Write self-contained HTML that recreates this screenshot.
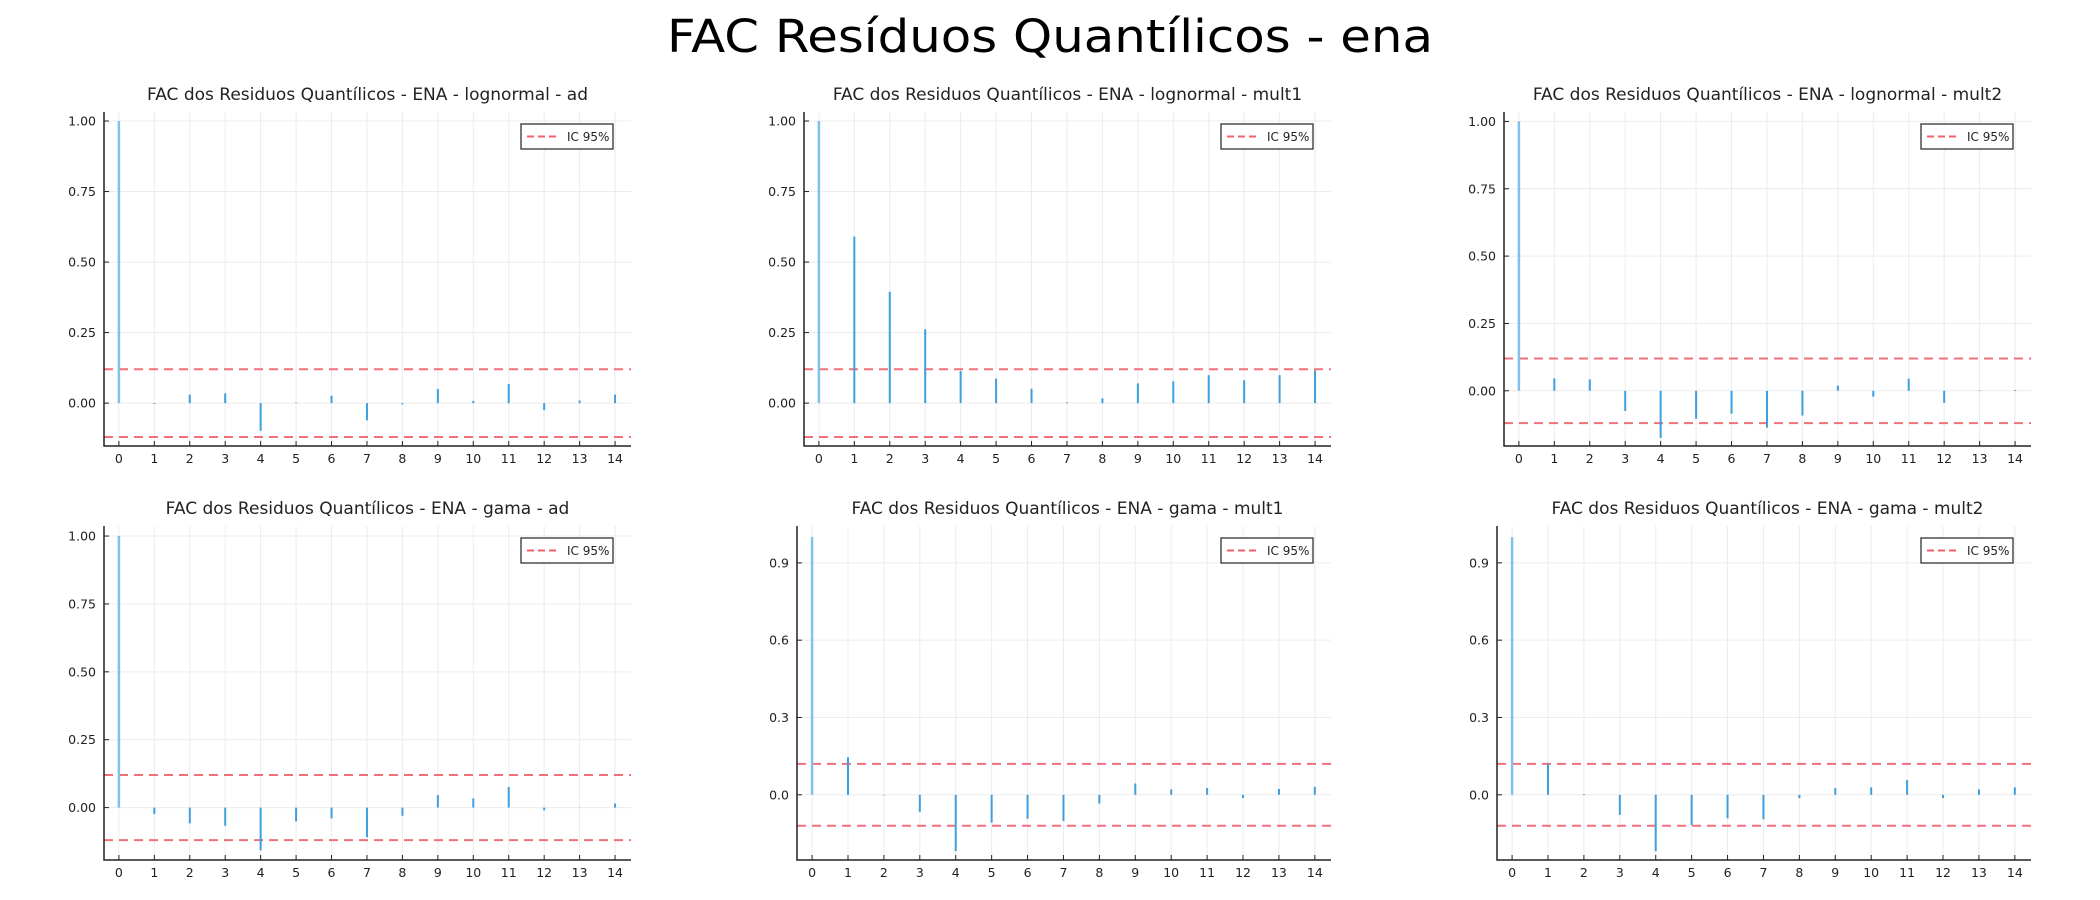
<!DOCTYPE html>
<html><head><meta charset="utf-8"><style>
body{margin:0;background:#fff;}
svg{display:block;font-family:"DejaVu Sans","Liberation Sans",sans-serif;}
</style></head><body>
<svg id="fig" width="2100" height="900" xmlns="http://www.w3.org/2000/svg">
<text x="1050" y="52" text-anchor="middle" font-size="45" textLength="766" lengthAdjust="spacingAndGlyphs" fill="#000">FAC Resíduos Quantílicos - ena</text>
</svg>
<script>
const lags = [0,1,2,3,4,5,6,7,8,9,10,11,12,13,14];
const ciValue = 0.12;
const acfLognormalAd = [1.0,-0.003,0.03,0.035,-0.098,0.002,0.026,-0.061,-0.004,0.05,0.008,0.068,-0.025,0.009,0.03];
const acfLognormalMult1 = [1.0,0.59,0.395,0.262,0.114,0.087,0.051,0.003,0.017,0.07,0.077,0.099,0.081,0.099,0.116];
const acfLognormalMult2 = [1.0,0.046,0.042,-0.075,-0.175,-0.104,-0.085,-0.137,-0.092,0.019,-0.022,0.045,-0.045,0.002,0.003];
const acfGamaAd = [1.0,-0.024,-0.058,-0.067,-0.158,-0.051,-0.04,-0.109,-0.03,0.046,0.034,0.076,-0.01,0.001,0.015];
const acfGamaMult1 = [1.0,0.146,-0.002,-0.066,-0.219,-0.108,-0.093,-0.102,-0.034,0.044,0.021,0.026,-0.013,0.023,0.031];
const acfGamaMult2 = [1.0,0.12,0.003,-0.078,-0.219,-0.117,-0.091,-0.095,-0.013,0.026,0.029,0.057,-0.013,0.021,0.029];
const ticks4 = [0,0.25,0.5,0.75,1.0];
const tickLabels4 = ["0.00","0.25","0.50","0.75","1.00"];
const ticks3 = [0,0.3,0.6,0.9];
const tickLabels3 = ["0.0","0.3","0.6","0.9"];

const NS="http://www.w3.org/2000/svg";
const svg=document.getElementById('fig');
function mk(tag,attrs,parent){const e=document.createElementNS(NS,tag);for(const k in attrs)e.setAttribute(k,attrs[k]);(parent||svg).appendChild(e);return e;}

const panels=[
 {t:"FAC dos Residuos Quantílicos - ENA - lognormal - ad",d:acfLognormalAd,ox:0,oy:0,L:104,ymin:-0.152,ymax:1.032,tk:ticks4,tl:tickLabels4,n:"lognormal-ad"},
 {t:"FAC dos Residuos Quantílicos - ENA - lognormal - mult1",d:acfLognormalMult1,ox:700,oy:0,L:104,ymin:-0.152,ymax:1.032,tk:ticks4,tl:tickLabels4,n:"lognormal-mult1"},
 {t:"FAC dos Residuos Quantílicos - ENA - lognormal - mult2",d:acfLognormalMult2,ox:1400,oy:0,L:104,ymin:-0.205,ymax:1.035,tk:ticks4,tl:tickLabels4,n:"lognormal-mult2"},
 {t:"FAC dos Residuos Quantílicos - ENA - gama - ad",d:acfGamaAd,ox:0,oy:414,L:104,ymin:-0.193,ymax:1.037,tk:ticks4,tl:tickLabels4,n:"gama-ad"},
 {t:"FAC dos Residuos Quantílicos - ENA - gama - mult1",d:acfGamaMult1,ox:700,oy:414,L:97,ymin:-0.253,ymax:1.043,tk:ticks3,tl:tickLabels3,n:"gama-mult1"},
 {t:"FAC dos Residuos Quantílicos - ENA - gama - mult2",d:acfGamaMult2,ox:1400,oy:414,L:97,ymin:-0.253,ymax:1.043,tk:ticks3,tl:tickLabels3,n:"gama-mult2"}
];

panels.forEach(p=>{
  const g=mk('g',{});
  
  
  const L=p.L+p.ox, R=631+p.ox, T=112+p.oy, B=446+p.oy;
  const xs=v=>L+(v-(-0.42))/(14.45-(-0.42))*(R-L);
  const ys=v=>B-(v-p.ymin)/(p.ymax-p.ymin)*(B-T);
  lags.forEach(l=>{const e=mk('line',{x1:xs(l),x2:xs(l),y1:T,y2:B,stroke:'#ececec','stroke-width':1},g);
    });
  p.tk.forEach(v=>{const e=mk('line',{x1:L,x2:R,y1:ys(v),y2:ys(v),stroke:'#ececec','stroke-width':1},g);
    });
  const tt=mk('text',{x:(104+p.ox+R)/2,y:100+p.oy,'text-anchor':'middle','font-size':17,fill:'#222'},g);
  tt.textContent=p.t;
  
  [ciValue,-ciValue].forEach(c=>{const e=mk('line',{x1:L,x2:R,y1:ys(c),y2:ys(c),stroke:'#f0606a','stroke-width':2,'stroke-dasharray':'9 6','stroke-opacity':0.9},g);
    });
  p.d.forEach((v,i)=>{const e=mk('line',{x1:xs(lags[i]),x2:xs(lags[i]),y1:ys(0),y2:ys(v),stroke:i==0?'#7fc0ec':'#3d9ee0','stroke-width':i==0?2.5:2},g);
    });
  const ax=mk('path',{d:`M${L},${T} L${L},${B} L${R},${B}`,fill:'none',stroke:'#222','stroke-width':1.5},g);
  
  lags.forEach(l=>{mk('line',{x1:xs(l),x2:xs(l),y1:B,y2:B-5,stroke:'#222','stroke-width':1},g);
    const e=mk('text',{x:xs(l),y:B+17,'text-anchor':'middle','font-size':12.5,fill:'#222'},g);e.textContent=l;
    });
  p.tk.forEach((v,i)=>{mk('line',{x1:L,x2:L+5,y1:ys(v),y2:ys(v),stroke:'#222','stroke-width':1},g);
    const e=mk('text',{x:L-8,y:ys(v)+4.5,'text-anchor':'end','font-size':12.5,fill:'#222'},g);e.textContent=p.tl[i];
    });
  const lg=mk('g',{},g);
  
  mk('rect',{x:521+p.ox,y:124+p.oy,width:92,height:25,fill:'#fff',stroke:'#333','stroke-width':1.3},lg);
  mk('line',{x1:527+p.ox,x2:560+p.ox,y1:136.5+p.oy,y2:136.5+p.oy,stroke:'#f0606a','stroke-width':2,'stroke-dasharray':'7 4'},lg);
  const lt=mk('text',{x:567+p.ox,y:141+p.oy,'font-size':12,fill:'#222'},lg);lt.textContent='IC 95%';
  
});
</script>
</body></html>
